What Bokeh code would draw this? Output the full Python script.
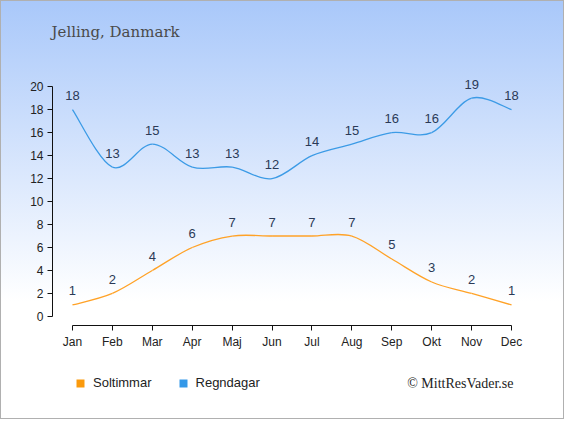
from bokeh.plotting import figure
from bokeh.models import Label, Legend, LegendItem, FixedTicker, Range1d, ColumnDataSource
from bokeh.layouts import column
from bokeh.embed import file_html
from bokeh.resources import INLINE
from bokeh.core.properties import value

months = ["Jan", "Feb", "Mar", "Apr", "Maj", "Jun", "Jul", "Aug", "Sep", "Okt", "Nov", "Dec"]
soltimmar = [1, 2, 4, 6, 7, 7, 7, 7, 5, 3, 2, 1]
regndagar = [18, 13, 15, 13, 13, 12, 14, 15, 16, 16, 19, 18]
y_ticks = [0, 2, 4, 6, 8, 10, 12, 14, 16, 18, 20]

ORANGE = "#ffa227"
BLUE = "#3c9be6"
ORANGE_KEY = "#fb9a0c"
BLUE_KEY = "#3498e8"
LABEL_COLOR = "#2b3a57"

W = 562
LEFT, RIGHT = 51, 32
p = figure(width=W, height=350, output_backend="svg", toolbar_location=None,
           x_range=Range1d(-0.5, 11.5), y_range=Range1d(-0.789, 23.063),
           min_border_left=LEFT, min_border_right=RIGHT, min_border_top=50, min_border_bottom=22)
p.border_fill_color = None
p.background_fill_color = None
p.outline_line_color = None
p.grid.visible = False

p.title.text = "Jelling, Danmark"
p.title.align = "left"
p.title.offset = -1
p.title.standoff = 21
p.title.text_font = "DejaVu Serif"
p.title.text_font_size = "15px"
p.title.text_font_style = "normal"
p.title.text_color = "#4a4a4a"

xs = list(range(len(months)))


def smooth(ys, color):
    n = len(ys)
    x0, y0, x1, y1, cx0, cy0, cx1, cy1 = [], [], [], [], [], [], [], []
    for i in range(n - 1):
        im1 = max(i - 1, 0)
        ip2 = min(i + 2, n - 1)
        x0.append(xs[i]); y0.append(ys[i])
        x1.append(xs[i + 1]); y1.append(ys[i + 1])
        cx0.append(xs[i] + (xs[i + 1] - xs[im1]) / 6)
        cy0.append(ys[i] + (ys[i + 1] - ys[im1]) / 6)
        cx1.append(xs[i + 1] - (xs[ip2] - xs[i]) / 6)
        cy1.append(ys[i + 1] - (ys[ip2] - ys[i]) / 6)
    p.bezier(x0=x0, y0=y0, x1=x1, y1=y1, cx0=cx0, cy0=cy0, cx1=cx1, cy1=cy1,
             line_color=color, line_width=1.3)
    src = ColumnDataSource(dict(x=xs, y=ys, t=[str(v) for v in ys]))
    p.text(x="x", y="y", text="t", source=src, text_align="center", text_baseline="middle",
           y_offset=-14, text_font=value("Liberation Sans"), text_font_size="13px",
           text_color=LABEL_COLOR)


smooth(soltimmar, ORANGE)
smooth(regndagar, BLUE)

# axes
p.yaxis.ticker = FixedTicker(ticks=y_ticks)
p.yaxis.bounds = (0, 20)
p.xaxis.ticker = FixedTicker(ticks=xs)
p.xaxis.bounds = (0, 11)
p.xaxis.major_label_overrides = {i: m for i, m in enumerate(months)}
for ax in (p.xaxis, p.yaxis):
    ax.axis_line_color = "#111111"
    ax.major_tick_line_color = "#111111"
    ax.major_tick_out = 5
    ax.major_tick_in = 0
    ax.minor_tick_line_color = None
    ax.major_label_text_font = "Liberation Sans"
    ax.major_label_text_font_size = "12px"
    ax.major_label_text_color = "#222222"
    ax.major_label_standoff = 4

# bottom strip: legend + copyright
p2 = figure(width=W, height=67, output_backend="svg", toolbar_location=None,
            x_range=Range1d(0, 1), y_range=Range1d(0, 1),
            min_border_left=LEFT, min_border_right=RIGHT, min_border_top=0, min_border_bottom=0)
p2.axis.visible = False
p2.grid.visible = False
p2.border_fill_color = None
p2.background_fill_color = None
p2.outline_line_color = None

r1 = p2.quad(left=[xs[0]], right=[xs[1]], bottom=[0], top=[soltimmar[0]],
             fill_color=ORANGE_KEY, line_color=None)
r2 = p2.quad(left=[xs[0]], right=[xs[1]], bottom=[0], top=[regndagar[0]],
             fill_color=BLUE_KEY, line_color=None)
r1.visible = False
r2.visible = False

legend = Legend(items=[LegendItem(label="Soltimmar", renderers=[r1], index=0),
                       LegendItem(label="Regndagar", renderers=[r2], index=0)],
                location=(23, 28), orientation="horizontal",
                glyph_width=10, glyph_height=10, label_standoff=8, spacing=26,
                padding=0, margin=0, background_fill_alpha=0, border_line_color=None,
                inactive_fill_alpha=0,
                label_text_font="Liberation Sans", label_text_font_size="13px",
                label_text_color="#222222", label_height=10)
p2.add_layout(legend)

p2.add_layout(Label(x=461, y=35, x_units="screen", y_units="screen", text="© MittResVader.se",
                    text_font="Liberation Serif", text_font_size="14px", text_color="#222222",
                    text_baseline="middle", text_align="right"))

layout = column(p, p2, spacing=0)
layout.styles = {"background": "linear-gradient(to bottom, #a9c8fa 0%, #ffffff 72%)",
                 "border": "1px solid #b0b0b0"}

open("out.html", "w").write(file_html(layout, INLINE))
